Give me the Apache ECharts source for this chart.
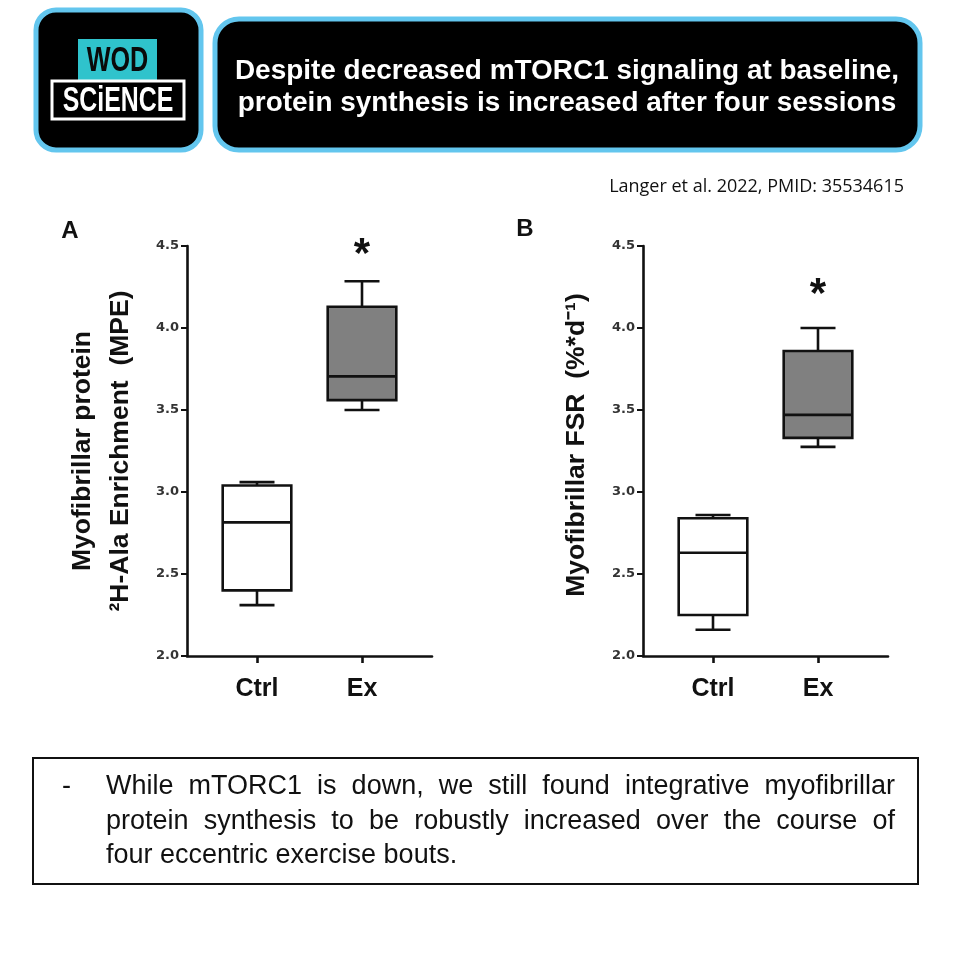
<!DOCTYPE html>
<html>
<head>
<meta charset="utf-8">
<script src="https://cdn.jsdelivr.net/npm/echarts@6/dist/echarts.min.js"></script>
<style>
  html, body { margin: 0; padding: 0; background: #fff; }
  #chart { width: 960px; height: 960px; }
</style>
</head>
<body>
<div id="chart"></div>
<script type="text/javascript">
// groups and where they sit on the x scale
var categories = ['Ctrl', 'Ex'];
var catPos = [1, 2.5];
var boxFill = ['#ffffff', '#808080'];

// panel A: myofibrillar 2H-Ala enrichment (MPE): [min, Q1, median, Q3, max]
var enrichCtrl = [2.31, 2.40, 2.815, 3.04, 3.06];
var enrichEx = [3.50, 3.56, 3.705, 4.13, 4.285];
var enrichStar = [null, 4.44];

// panel B: myofibrillar FSR (%*d-1)
var fsrCtrl = [2.16, 2.25, 2.63, 2.84, 2.86];
var fsrEx = [3.275, 3.33, 3.47, 3.86, 4.00];
var fsrStar = [null, 4.20];

var yTicks = { min: 2.0, max: 4.5, step: 0.5 };

var bullet = [
  'While mTORC1 is down, we still found integrative myofibrillar',
  'protein synthesis to be robustly increased over the course of',
  'four eccentric exercise bouts.'
];

var chart = echarts.init(document.getElementById('chart'));

function boxData(ctrl, ex, star) {
  return [ctrl, ex].map(function (d, i) {
    return [catPos[i]].concat(d).concat([star[i] == null ? NaN : star[i], i]);
  });
}

function renderBox(params, api) {
  var x = api.value(0);
  var lo = api.coord([x, api.value(1)]);
  var q1 = api.coord([x, api.value(2)]);
  var md = api.coord([x, api.value(3)]);
  var q3 = api.coord([x, api.value(4)]);
  var hi = api.coord([x, api.value(5)]);
  var half = api.size([0.49, 0])[0];
  var cap = api.size([0.25, 0])[0];
  var cx = lo[0];
  var ln = { stroke: '#111', lineWidth: 2.6 };
  var kids = [
    { type: 'line', shape: { x1: cx, y1: hi[1], x2: cx, y2: q3[1] }, style: ln },
    { type: 'line', shape: { x1: cx, y1: q1[1], x2: cx, y2: lo[1] }, style: ln },
    { type: 'line', shape: { x1: cx - cap, y1: hi[1], x2: cx + cap, y2: hi[1] }, style: ln },
    { type: 'line', shape: { x1: cx - cap, y1: lo[1], x2: cx + cap, y2: lo[1] }, style: ln },
    { type: 'rect', shape: { x: cx - half, y: q3[1], width: half * 2, height: q1[1] - q3[1] },
      style: { fill: boxFill[api.value(7)], stroke: '#111', lineWidth: 2.6 } },
    { type: 'line', shape: { x1: cx - half, y1: md[1], x2: cx + half, y2: md[1] }, style: ln }
  ];
  var s = api.value(6);
  if (!isNaN(s)) {
    var sp = api.coord([x, s]);
    kids.push({ type: 'text', x: cx, y: sp[1],
      style: { text: '*', fill: '#111', font: 'bold 42px "Liberation Sans"', align: 'center', verticalAlign: 'middle' } });
  }
  return { type: 'group', children: kids };
}

function xAx(idx) {
  return {
    gridIndex: idx, type: 'value', min: 0, max: 3.5,
    splitLine: { show: false },
    axisLine: { show: true, onZero: false, lineStyle: { color: '#111', width: 2.6 } },
    axisTick: { show: true, customValues: catPos, length: 7, lineStyle: { color: '#111', width: 2.6 } },
    axisLabel: {
      customValues: catPos, margin: 21, color: '#111',
      fontFamily: 'Liberation Sans', fontWeight: 'bold', fontSize: 25,
      formatter: function (v) { return categories[catPos.indexOf(v)]; }
    }
  };
}

function yAx(idx) {
  return {
    gridIndex: idx, type: 'value', min: yTicks.min, max: yTicks.max, interval: yTicks.step,
    splitLine: { show: false },
    axisLine: { show: true, lineStyle: { color: '#111', width: 2.6 } },
    axisTick: { show: true, length: 6, lineStyle: { color: '#111', width: 2 } },
    axisLabel: {
      margin: 8, color: '#333', fontFamily: 'DejaVu Sans', fontWeight: 'bold', fontSize: 13,
      formatter: function (v) { return v.toFixed(1); }
    }
  };
}

// justified bullet text, word by word
var ctx = document.createElement('canvas').getContext('2d');
var bulletFont = '27px "Liberation Sans"';
ctx.font = bulletFont;
var bulletEls = [];
var bx0 = 106, bx1 = 895, by0 = 787, bStep = 34.5;
bullet.forEach(function (line, li) {
  var words = line.split(' ');
  var widths = words.map(function (w) { return ctx.measureText(w).width; });
  var total = widths.reduce(function (a, b) { return a + b; }, 0);
  var last = li === bullet.length - 1;
  var gap = last ? ctx.measureText(' ').width : (bx1 - bx0 - total) / (words.length - 1);
  var xx = bx0;
  words.forEach(function (w, wi) {
    bulletEls.push({ type: 'text', x: xx, y: by0 + li * bStep,
      style: { text: w, font: bulletFont, fill: '#111', align: 'left', verticalAlign: 'middle' } });
    xx += widths[wi] + gap;
  });
});

var option = {
  animation: false,
  backgroundColor: '#ffffff',
  grid: [
    { left: 187, top: 246, width: 245, height: 410 },
    { left: 643, top: 246, width: 245, height: 410 }
  ],
  xAxis: [xAx(0), xAx(1)],
  yAxis: [yAx(0), yAx(1)],
  series: [
    { type: 'custom', xAxisIndex: 0, yAxisIndex: 0, renderItem: renderBox,
      data: boxData(enrichCtrl, enrichEx, enrichStar), encode: { x: 0, y: [1, 5] } },
    { type: 'custom', xAxisIndex: 1, yAxisIndex: 1, renderItem: renderBox,
      data: boxData(fsrCtrl, fsrEx, fsrStar), encode: { x: 0, y: [1, 5] } }
  ],
  graphic: [
    // logo
    { type: 'rect', shape: { x: 36, y: 10, width: 165, height: 140, r: 20 },
      style: { fill: '#000', stroke: '#63c6ee', lineWidth: 5 } },
    { type: 'rect', shape: { x: 78, y: 39, width: 79, height: 41 }, style: { fill: '#2fc3cc' } },
    { type: 'text', x: 117.5, y: 61, scaleX: 0.72,
      style: { text: 'WOD', font: 'bold 35px "Liberation Sans"', fill: '#0a0a0a', align: 'center', verticalAlign: 'middle' } },
    { type: 'rect', shape: { x: 52, y: 81, width: 132, height: 38 },
      style: { fill: 'none', stroke: '#fff', lineWidth: 3 } },
    { type: 'text', x: 118, y: 101, scaleX: 0.71,
      style: { text: 'SCiENCE', font: 'bold 35px "Liberation Sans"', fill: '#fff', align: 'center', verticalAlign: 'middle' } },
    // title
    { type: 'rect', shape: { x: 215, y: 19, width: 705, height: 131, r: 24 },
      style: { fill: '#000', stroke: '#63c6ee', lineWidth: 5 } },
    { type: 'text', x: 567, y: 72, scaleX: 1.035,
      style: { text: 'Despite decreased mTORC1 signaling at baseline,', font: 'bold 27px "Liberation Sans"', fill: '#fff', align: 'center', verticalAlign: 'middle' } },
    { type: 'text', x: 567, y: 104, scaleX: 1.035,
      style: { text: 'protein synthesis is increased after four sessions', font: 'bold 27px "Liberation Sans"', fill: '#fff', align: 'center', verticalAlign: 'middle' } },
    { type: 'text', x: 904, y: 187,
      style: { text: 'Langer et al. 2022, PMID: 35534615', font: '18px "Open Sans"', fill: '#111', align: 'right', verticalAlign: 'middle' } },
    // panel letters and axis names
    { type: 'text', x: 70, y: 231,
      style: { text: 'A', font: 'bold 24px "Liberation Sans"', fill: '#111', align: 'center', verticalAlign: 'middle' } },
    { type: 'text', x: 525, y: 229,
      style: { text: 'B', font: 'bold 24px "Liberation Sans"', fill: '#111', align: 'center', verticalAlign: 'middle' } },
    { type: 'text', x: 83, y: 451, rotation: Math.PI / 2,
      style: { text: 'Myofibrillar protein', font: 'bold 26.5px "Liberation Sans"', fill: '#111', align: 'center', verticalAlign: 'middle' } },
    { type: 'text', x: 121, y: 451, rotation: Math.PI / 2,
      style: { text: '\u00b2H-Ala Enrichment  (MPE)', font: 'bold 26.5px "Liberation Sans"', fill: '#111', align: 'center', verticalAlign: 'middle' } },
    { type: 'text', x: 577, y: 445, rotation: Math.PI / 2,
      style: { text: 'Myofibrillar FSR  (%*d\u207b\u00b9)', font: 'bold 26.5px "Liberation Sans"', fill: '#111', align: 'center', verticalAlign: 'middle' } },
    // bullet box
    { type: 'rect', shape: { x: 33, y: 758, width: 885, height: 126 },
      style: { fill: 'none', stroke: '#111', lineWidth: 2 } },
    { type: 'text', x: 62, y: 787,
      style: { text: '-', font: bulletFont, fill: '#111', align: 'left', verticalAlign: 'middle' } }
  ].concat(bulletEls)
};

chart.setOption(option);
</script>
</body>
</html>
